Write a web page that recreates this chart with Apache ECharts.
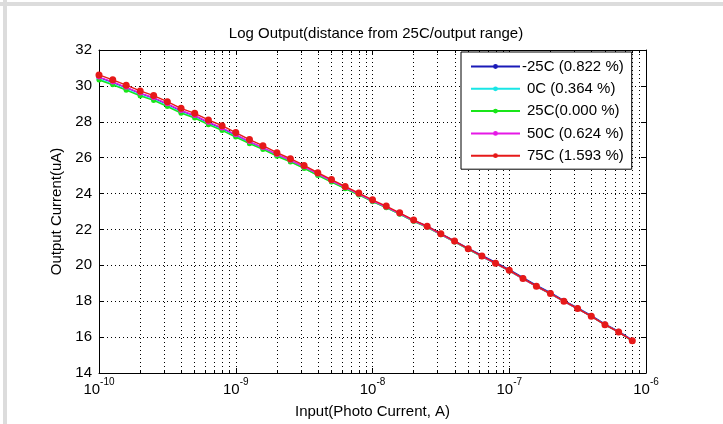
<!DOCTYPE html>
<html>
<head>
<meta charset="utf-8">
<script src="https://cdn.jsdelivr.net/npm/echarts@6/dist/echarts.min.js"></script>
<style>
html, body { margin: 0; padding: 0; background: #fff; }
#chart { width: 723px; height: 424px; }
</style>
</head>
<body>
<div id="chart"></div>
<script>
// input photo current (A), 10 points per decade
var inputCurrent = [
  1.00e-10, 1.26e-10, 1.58e-10, 2.00e-10, 2.51e-10, 3.16e-10, 3.98e-10, 5.01e-10, 6.31e-10, 7.94e-10,
  1.00e-9, 1.26e-9, 1.58e-9, 2.00e-9, 2.51e-9, 3.16e-9, 3.98e-9, 5.01e-9, 6.31e-9, 7.94e-9,
  1.00e-8, 1.26e-8, 1.58e-8, 2.00e-8, 2.51e-8, 3.16e-8, 3.98e-8, 5.01e-8, 6.31e-8, 7.94e-8,
  1.00e-7, 1.26e-7, 1.58e-7, 2.00e-7, 2.51e-7, 3.16e-7, 3.98e-7, 5.01e-7, 6.31e-7, 7.94e-7
];

var seriesNames = ['-25C (0.822 %)', '0C (0.364 %)', '25C(0.000 %)', '50C (0.624 %)', '75C (1.593 %)'];
var seriesColors = ['#1a1ab8', '#19e6e6', '#19e619', '#e619e6', '#e61919'];

// output current (uA)
var outM25 = [
  30.47, 30.20, 29.90, 29.58, 29.32, 28.98, 28.61, 28.33, 27.96, 27.63,
  27.26, 26.88, 26.55, 26.17, 25.84, 25.47, 25.08, 24.70, 24.33, 23.97,
  23.60, 23.26, 22.90, 22.51, 22.18, 21.77, 21.37, 20.95, 20.55, 20.16,
  19.76, 19.31, 18.88, 18.48, 18.04, 17.63, 17.20, 16.73, 16.32, 15.83
];
var out0 = [
  30.37, 30.10, 29.80, 29.48, 29.23, 28.89, 28.52, 28.24, 27.87, 27.55,
  27.18, 26.81, 26.49, 26.11, 25.79, 25.42, 25.03, 24.66, 24.29, 23.94,
  23.57, 23.22, 22.86, 22.46, 22.13, 21.72, 21.31, 20.90, 20.49, 20.10,
  19.70, 19.26, 18.83, 18.42, 17.99, 17.58, 17.15, 16.69, 16.29, 15.79
];
var out25 = [
  30.33, 30.06, 29.76, 29.44, 29.19, 28.85, 28.48, 28.21, 27.84, 27.52,
  27.15, 26.78, 26.46, 26.08, 25.76, 25.40, 25.01, 24.64, 24.27, 23.92,
  23.55, 23.21, 22.85, 22.45, 22.12, 21.71, 21.30, 20.89, 20.48, 20.09,
  19.69, 19.25, 18.82, 18.41, 17.99, 17.58, 17.15, 16.68, 16.28, 15.78
];
var out50 = [
  30.49, 30.22, 29.92, 29.60, 29.34, 29.00, 28.63, 28.35, 27.98, 27.66,
  27.28, 26.90, 26.56, 26.18, 25.85, 25.49, 25.09, 24.71, 24.34, 23.97,
  23.59, 23.25, 22.88, 22.48, 22.14, 21.73, 21.32, 20.91, 20.50, 20.10,
  19.70, 19.25, 18.82, 18.42, 17.99, 17.58, 17.15, 16.69, 16.28, 15.80
];
var out75 = [
  30.61, 30.34, 30.04, 29.72, 29.46, 29.12, 28.75, 28.47, 28.10, 27.78,
  27.40, 27.01, 26.67, 26.28, 25.94, 25.57, 25.16, 24.78, 24.40, 24.03,
  23.65, 23.30, 22.93, 22.52, 22.18, 21.76, 21.35, 20.93, 20.52, 20.12,
  19.72, 19.27, 18.84, 18.43, 18.00, 17.59, 17.16, 16.69, 16.28, 15.80
];

var minorTicks = [
  2e-10, 3e-10, 4e-10, 5e-10, 6e-10, 7e-10, 8e-10, 9e-10,
  2e-9, 3e-9, 4e-9, 5e-9, 6e-9, 7e-9, 8e-9, 9e-9,
  2e-8, 3e-8, 4e-8, 5e-8, 6e-8, 7e-8, 8e-8, 9e-8,
  2e-7, 3e-7, 4e-7, 5e-7, 6e-7, 7e-7, 8e-7, 9e-7
];

var FONT = 'Liberation Sans, Arial, sans-serif';
var dotted = { color: '#000', width: 1, type: [1, 3] };

function xAxisBase(pos) {
  return {
    type: 'log', logBase: 10, min: 1e-10, max: 1e-6, position: pos,
    axisLine: { show: true, onZero: false, lineStyle: { color: '#000', width: 1 } },
    axisTick: { show: true, inside: true, length: 5, lineStyle: { color: '#000' } },
    axisLabel: { show: false },
    splitLine: { show: false },
    minorTick: { show: false }
  };
}

var chart = echarts.init(document.getElementById('chart'));
var allOut = [outM25, out0, out25, out50, out75];

var series = allOut.map(function (arr, k) {
  return {
    name: seriesNames[k], type: 'line',
    data: inputCurrent.map(function (x, i) { return [x, arr[i]]; }),
    symbol: 'circle', symbolSize: k === 4 ? 7 : 5, showAllSymbol: true,
    lineStyle: { color: seriesColors[k], width: 1.4 },
    itemStyle: { color: seriesColors[k] },
    emphasis: { disabled: true },
    z: 3 + k
  };
});

var xMain = xAxisBase('bottom');
xMain.splitLine = { show: true, lineStyle: dotted };
xMain.axisLabel = {
  show: true, margin: 4, color: '#000',
  formatter: function (v) {
    return '{b|10}{s|' + Math.round(Math.log10(v)) + '}';
  },
  rich: {
    b: { fontSize: 15, fontFamily: FONT, lineHeight: 20, verticalAlign: 'bottom', color: '#000' },
    s: { fontSize: 10, fontFamily: FONT, lineHeight: 10, verticalAlign: 'top', color: '#000' }
  }
};
xMain.name = 'Input(Photo Current, A)';
xMain.nameLocation = 'middle';
xMain.nameGap = 31;
xMain.nameTextStyle = { fontSize: 15, fontFamily: FONT, color: '#000' };

var xMinor = xAxisBase('bottom');
xMinor.axisLine.show = false;
xMinor.axisTick = { show: true, inside: true, length: 3, customValues: minorTicks, lineStyle: { color: '#000' } };
xMinor.splitLine = { show: true, lineStyle: dotted };

var xTop = xAxisBase('top');
var xTopMinor = xAxisBase('top');
xTopMinor.axisLine.show = false;
xTopMinor.axisTick = { show: true, inside: true, length: 3, customValues: minorTicks, lineStyle: { color: '#000' } };

chart.setOption({
  animation: false,
  backgroundColor: '#fff',
  textStyle: { fontFamily: FONT },
  title: {
    text: 'Log Output(distance from 25C/output range)',
    left: 371, top: 21, textAlign: 'center',
    textStyle: { fontSize: 15, fontWeight: 'normal', fontFamily: FONT, color: '#000' }
  },
  grid: { left: 99, right: 77, top: 50, bottom: 50, show: false },
  legend: {
    orient: 'vertical', left: 461, top: 52,
    backgroundColor: '#fff', borderColor: '#000', borderWidth: 1, borderRadius: 0,
    padding: [7, 8, 6, 9], itemGap: 7.3, itemWidth: 49, itemHeight: 6,
    textStyle: {
      fontSize: 15, lineHeight: 15, fontFamily: FONT, color: '#000', padding: [0, 0, 0, -3],
      rich: { a: { fontSize: 15, lineHeight: 15, fontFamily: FONT, color: '#000', padding: [0, 0, 0, 5] } }
    },
    formatter: function (name) {
      return name.charAt(0) === '-' ? name : '{a|' + name + '}';
    },
    data: seriesNames
  },
  xAxis: [xMain, xMinor, xTop, xTopMinor],
  yAxis: [
    {
      type: 'value', min: 14, max: 32, interval: 2, position: 'left',
      axisLine: { show: true, onZero: false, lineStyle: { color: '#000' } },
      axisTick: { show: true, inside: true, length: 5, lineStyle: { color: '#000' } },
      axisLabel: { margin: 7, fontSize: 15, fontFamily: FONT, color: '#000' },
      splitLine: { show: true, lineStyle: dotted },
      name: 'Output Current(uA)', nameLocation: 'middle', nameGap: 29, nameRotate: 90,
      nameTextStyle: { fontSize: 15, fontFamily: FONT, color: '#000' }
    },
    {
      type: 'value', min: 14, max: 32, interval: 2, position: 'right',
      axisLine: { show: true, onZero: false, lineStyle: { color: '#000' } },
      axisTick: { show: true, inside: true, length: 5, lineStyle: { color: '#000' } },
      axisLabel: { show: false },
      splitLine: { show: false }
    }
  ],
  graphic: [
    { type: 'rect', shape: { x: 0, y: 2, width: 723, height: 4 }, style: { fill: '#dcdcdc' }, silent: true },
    { type: 'rect', shape: { x: 3, y: 0, width: 4, height: 424 }, style: { fill: '#dcdcdc' }, silent: true }
  ],
  series: series
});
</script>
</body>
</html>
